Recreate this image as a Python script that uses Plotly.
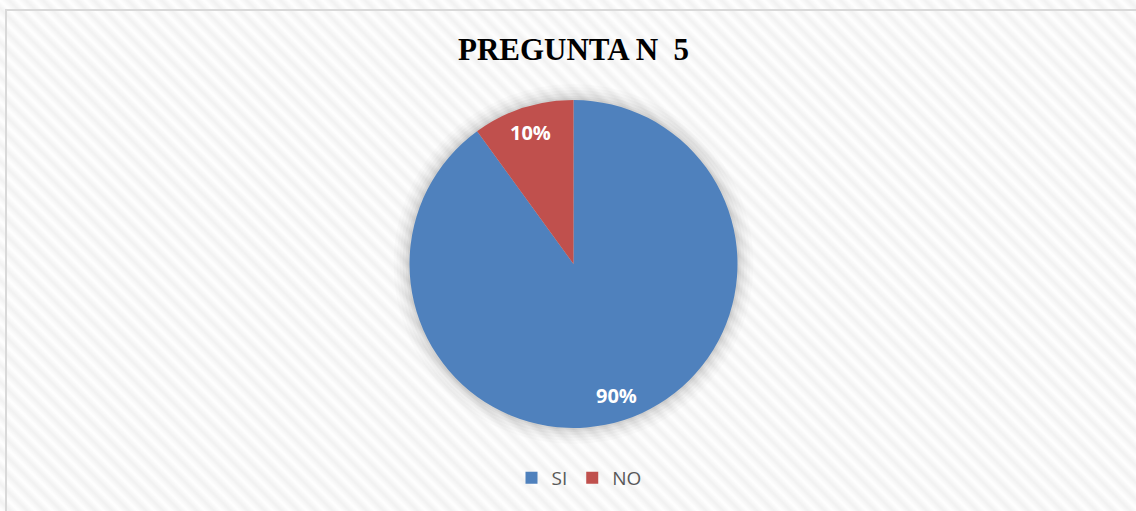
import math
import base64
import plotly.graph_objects as go

categories = ["SI", "NO"]
values = [90, 10]
colors = ["#4F81BD", "#C0504D"]
title_text = "PREGUNTA N\u00a0 5"

W, H = 1136, 511

# diagonal stripe background (style only)
svg = f'''<svg xmlns="http://www.w3.org/2000/svg" width="{W}" height="{H}">
<defs>
<linearGradient id="g" x1="0" y1="0" x2="1" y2="0">
<stop offset="0" stop-color="#ffffff"/><stop offset="0.5" stop-color="#f1f1f1"/><stop offset="1" stop-color="#ffffff"/>
</linearGradient>
<pattern id="p" width="12" height="12" patternUnits="userSpaceOnUse" patternTransform="rotate(-45)">
<rect width="12" height="12" fill="url(#g)"/></pattern></defs>
<rect width="{W}" height="{H}" fill="url(#p)"/></svg>'''
bg = "data:image/svg+xml;base64," + base64.b64encode(svg.encode()).decode()

cx, cy, r = 573.5, 264, 164
dom_x = [(cx - r) / W, (cx + r) / W]
dom_y = [(H - (cy + r)) / H, (H - (cy - r)) / H]

fig = go.Figure()

# soft shadow behind pie
for i, (extra, op) in enumerate([(16, 0.015), (13, 0.02), (10, 0.025), (7, 0.03), (4, 0.035), (2, 0.04)]):
    fig.add_trace(go.Pie(
        values=[1], labels=["_s%d" % i], marker=dict(colors=["#000000"]),
        opacity=op, textinfo="none", hoverinfo="skip", showlegend=False, sort=False,
        domain=dict(x=[(cx - r - extra) / W, (cx + r + extra) / W],
                    y=[(H - (cy + r + extra)) / H, (H - (cy - r - extra)) / H]),
    ))

fig.add_trace(go.Pie(
    labels=categories, values=values, sort=False, direction="clockwise", rotation=0,
    marker=dict(colors=colors, line=dict(color="#ffffff", width=0)),
    textinfo="none", hoverinfo="label+percent",
    domain=dict(x=dom_x, y=dom_y), showlegend=True,
))

# data labels placed at each slice's mid-angle (computed from values)
total = sum(values)
annotations = []
cum = 0.0
for v in values:
    mid = (cum + v / 2) / total * 2 * math.pi  # clockwise from 12 o'clock
    cum += v
    d = 0.84 * r
    px = cx + d * math.sin(mid)
    py = cy - d * math.cos(mid)
    annotations.append(dict(
        text="<b>%d%%</b>" % round(100 * v / total), x=px / W, y=(H - py) / H,
        xref="paper", yref="paper", showarrow=False, xanchor="center", yanchor="middle",
        font=dict(family="Open Sans", size=20, color="#ffffff"),
    ))

fig.update_layout(
    width=W, height=H, margin=dict(l=0, r=0, t=0, b=0),
    paper_bgcolor="#ffffff", plot_bgcolor="#ffffff",
    title=dict(text="<b>" + title_text + "</b>", x=573.5 / W, xanchor="center",
               y=1 - 49 / H, yanchor="middle",
               font=dict(family="Liberation Serif", size=31, color="#000000")),
    legend=dict(orientation="h", x=579 / W, xanchor="center", y=(H - 478) / H, yanchor="middle",
                font=dict(family="Open Sans", size=19, color="#595959"),
                bgcolor="rgba(0,0,0,0)", itemwidth=30),
    annotations=annotations,
    images=[dict(source=bg, xref="paper", yref="paper", x=0, y=1, sizex=1, sizey=1,
                 xanchor="left", yanchor="top", sizing="stretch", layer="below")],
    shapes=[dict(type="rect", xref="paper", yref="paper",
                 x0=6 / W, x1=1.02, y0=-0.02, y1=1 - 10 / H,
                 line=dict(color="#d9d9d9", width=2), fillcolor="rgba(0,0,0,0)")],
)

fig.write_html("out.html", config={"displayModeBar": False},
               post_script="document.body.style.margin='0';document.body.style.overflow='hidden';")
